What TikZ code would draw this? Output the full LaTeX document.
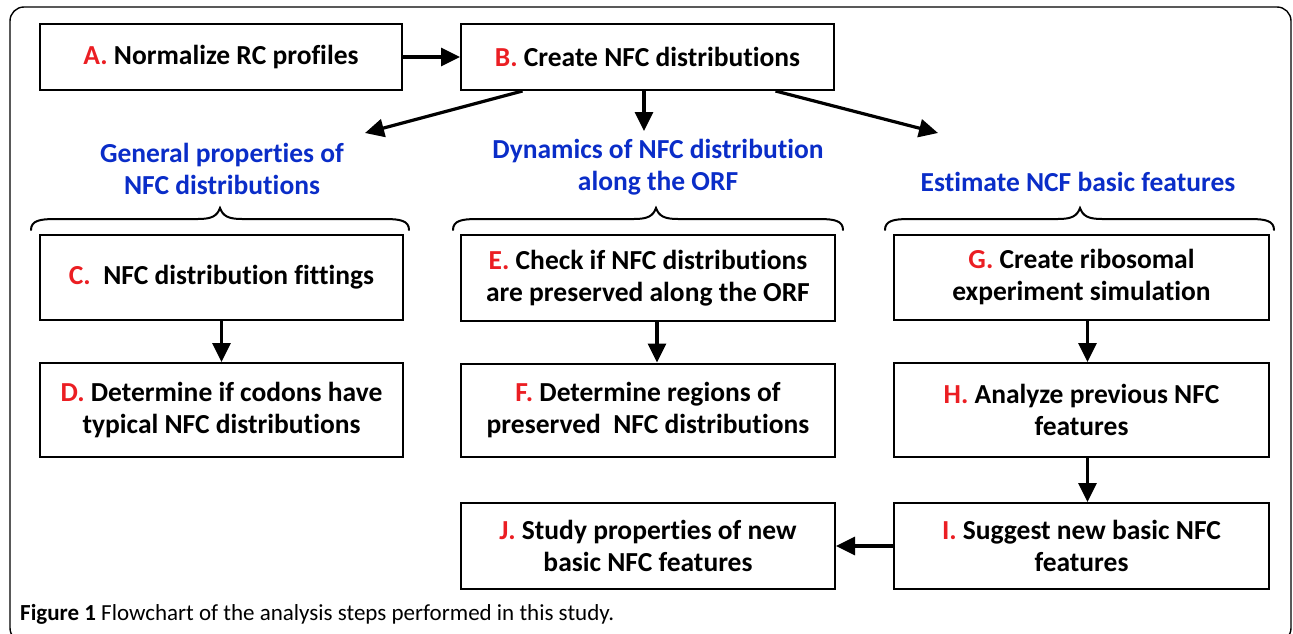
\documentclass[tikz,border=0pt]{standalone}
\usepackage{fontspec}
\setmainfont{Carlito}[Ligatures=NoCommon]
\usetikzlibrary{arrows.meta,calc}
\definecolor{hblue}{RGB}{10,45,200}
\definecolor{lred}{RGB}{235,30,35}
\newcommand{\boxfont}{\fontsize{27.5}{32}\selectfont\bfseries}
\newcommand{\lbl}[1]{\textcolor{lred}{#1}}
\begin{document}
\begin{tikzpicture}[x=1pt,y=-1pt,
  box/.style={draw, line width=2pt, align=center, font=\boxfont, inner sep=0pt},
  hd/.style={align=center, font=\boxfont, text=hblue, inner sep=0pt},
  arr/.style={line width=3.2pt, -{Triangle[length=19pt,width=18pt]}},
  bracepath/.style={line width=2pt, line cap=round}
]
\useasboundingbox (0,0) rectangle (1293,634);
\begin{scope}
\clip (0,0) rectangle (1293,634);
\draw[line width=1.4pt, rounded corners=14pt] (10,7) rectangle (1291,642);
\end{scope}

% top row
\node[box, minimum width=362pt, minimum height=66pt] (A) at (221,57) {\lbl{A.} Normalize RC profiles};
\node[box, minimum width=373pt, minimum height=66pt] (B) at (647.5,57) {\lbl{B.} Create NFC distributions};

% headings
\node[hd] (H1) at (222,169) {General properties of\\NFC distributions};
\node[hd] (H2) at (658,167) {Dynamics of NFC distribution\\along the ORF};
\node[hd] (H3) at (1078,182) {Estimate NCF basic features};

% row 1
\node[box, minimum width=363pt, minimum height=85pt] (C) at (221.5,277) {\lbl{C.}\ \ NFC distribution fittings};
\node[box, minimum width=374pt, minimum height=86pt] (E) at (648,278) {\lbl{E.} Check if NFC distributions\\are preserved along the ORF};
\node[box, minimum width=375pt, minimum height=85pt] (G) at (1081.5,277) {\lbl{G.} Create ribosomal\\experiment simulation};

% row 2
\node[box, minimum width=363pt, minimum height=94pt] (D) at (221.5,410) {\lbl{D.} Determine if codons have\\typical NFC distributions};
\node[box, minimum width=374pt, minimum height=93pt] (F) at (648,410) {\lbl{F.} Determine regions of\\preserved\ \ NFC distributions};
\node[box, minimum width=375pt, minimum height=94pt] (H) at (1081.5,410) {\lbl{H.} Analyze previous NFC\\features};

% row 3
\node[box, minimum width=374pt, minimum height=86pt] (J) at (648,546) {\lbl{J.} Study properties of new\\basic NFC features};
\node[box, minimum width=375pt, minimum height=86pt] (I) at (1081.5,546) {\lbl{I.} Suggest new basic NFC\\features};

% arrow endpoints near headings
\coordinate (t1) at (365,133);
\coordinate (t2) at (644,131);
\coordinate (t3) at (938,133);

\draw[arr] (A.east) -- (B.west);
\draw[arr] ([xshift=-125pt]B.south) -- (t1);
\draw[arr] ([xshift=-3.5pt]B.south) -- (t2);
\draw[arr] ([xshift=128pt]B.south) -- (t3);

\draw[arr] (C.south) -- (D.north);
\draw[arr] ([xshift=9pt]E.south) -- ([xshift=9pt]F.north);
\draw[arr] ([xshift=6pt]G.south) -- ([xshift=6pt]H.north);
\draw[arr] ([xshift=6pt]H.south) -- ([xshift=6pt]I.north);
\draw[arr] (I.west) -- (J.east);

% braces
\foreach \L/\T/\R in {31/220/409, 453/656/843, 885/1080/1274}{
  \draw[bracepath] (\L,230) .. controls (\L,221) and (\L+8,219) .. (\L+24,219)
    -- (\T-22,219) .. controls (\T-8,219) and (\T-3,216) .. (\T,208)
    .. controls (\T+3,216) and (\T+8,219) .. (\T+22,219)
    -- (\R-24,219) .. controls (\R-8,219) and (\R,221) .. (\R,230);
}

% caption
\node[anchor=west, inner sep=0pt, font=\fontsize{23}{26}\selectfont] (cap) at (20,614)
  {\textbf{Figure 1} Flowchart of the analysis steps performed in this study.};
\end{tikzpicture}
\end{document}
